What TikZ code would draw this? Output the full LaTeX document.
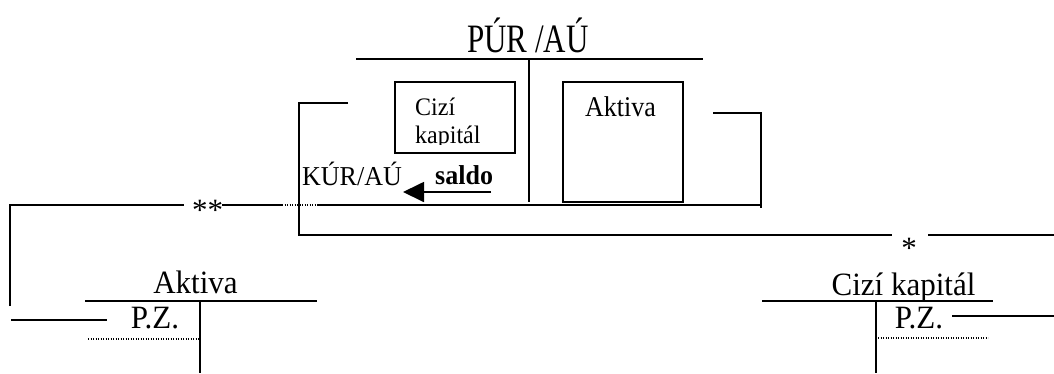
\documentclass[tikz,border=0pt]{standalone}
\usepackage{graphicx}
\usepackage{fontspec}
\setmainfont{Liberation Serif}
\usetikzlibrary{arrows.meta}
\newcommand{\bigtxt}{\fontsize{31}{36}\selectfont}
\newcommand{\smalltxt}{\fontsize{26}{28}\selectfont}
\newcommand{\boxtxt}{\fontsize{24}{28}\selectfont}
% text stretched vertically by the given factor
\newcommand{\tall}[2]{\scalebox{1}[#1]{#2}}
\tikzset{
  rule/.style={line width=1.8pt},
  dotrule/.style={line width=1.2pt, dash pattern=on 1.2pt off 1.3pt},
  big/.style={inner sep=0pt, anchor=base, font=\bigtxt},
  small/.style={inner sep=0pt, anchor=base west, font=\smalltxt},
  saldoarrow/.style={line width=1.8pt, -{Triangle[length=21pt,width=20pt]}}
}
\begin{document}
\begin{tikzpicture}[x=1pt,y=-1pt]
\useasboundingbox (0,0) rectangle (1054,373);

% PÚR / AÚ account
\node[big] (pur) at (528,52) {\tall{1.3}{PÚR /AÚ}};
\draw[rule] (356,59) -- (703,59);
\draw[rule] (529,59) -- (529,202);
\draw[rule] (395,82) rectangle (515,153);
\draw[rule] (563,82) rectangle (683,202);
\begin{scope}
  \clip (396,83) rectangle (514,144);
  \node[small, font=\boxtxt] (cizi) at (415,115) {\tall{1.05}{Cizí}};
  \node[small, font=\boxtxt] (kap) at (415,143) {\tall{1.05}{kapitál}};
\end{scope}
\node[small] (akt) at (585,116.7) {\tall{1.1}{Aktiva}};

% right bracket and closing line of the account
\draw[rule] (713,113) -- (761,113) -- (761,208);
\draw[rule] (318,205) -- (761,205);

% saldo transfer
\node[small] (kur) at (302,185.5) {\tall{1.05}{KÚR/AÚ}};
\node[small, font=\smalltxt\bfseries] (saldo) at (435,184) {\tall{1.05}{saldo}};
\coordinate (arrS) at (491,192);
\coordinate (arrE) at (403,192);
\draw[saldoarrow] (arrS) -- (arrE);

% left bracket and line marked *
\draw[rule] (348,103) -- (299,103) -- (299,235) -- (892,235);
\draw[rule] (928,235) -- (1054,235);
\node[big] (star) at (909,258) {*};

% line marked **
\node[big] (stars) at (207.5,220) {**};
\draw[rule] (10,306) -- (10,205) -- (184,205);
\draw[rule] (222,205) -- (282,205);
\draw[dotrule] (282,205) -- (318,205);

% Aktiva T-account
\node[big] (aktT) at (195.5,293.3) {\tall{1.05}{Aktiva}};
\draw[rule] (85,301) -- (317,301);
\draw[rule] (200,301) -- (200,373);
\node[big] (pzL) at (155,328.5) {\tall{1.05}{P.Z.}};
\draw[rule] (11,320) -- (107,320);
\draw[dotrule] (88,339) -- (200,339);

% Cizí kapitál T-account
\node[big] (ckT) at (903.5,295) {\tall{1.05}{Cizí kapitál}};
\draw[rule] (762,301) -- (993,301);
\draw[rule] (876,301) -- (876,373);
\node[big] (pzR) at (919,328.5) {\tall{1.05}{P.Z.}};
\draw[rule] (952,316) -- (1054,316);
\draw[dotrule] (878,338) -- (988,338);
\end{tikzpicture}
\end{document}
